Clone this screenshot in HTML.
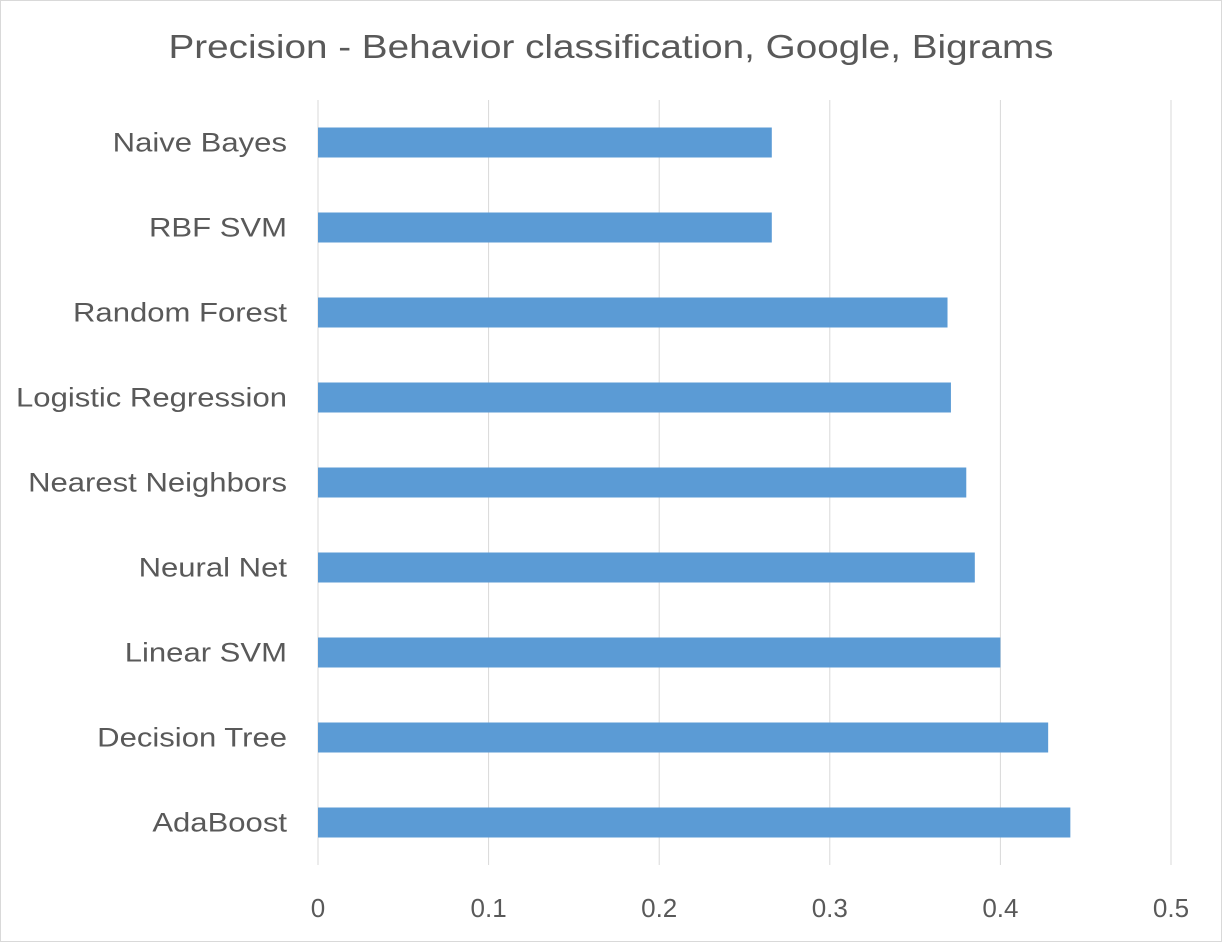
<!DOCTYPE html>
<html><head><meta charset="utf-8"><style>
body{margin:0;background:#fff}
svg{display:block;font-family:"Liberation Sans",sans-serif}
</style></head><body>
<svg id="chart" width="1222" height="942" viewBox="0 0 1222 942">
<rect x="0.5" y="0.5" width="1221" height="941" fill="#fff" stroke="#d9d9d9"/>
<text x="611" y="58" text-anchor="middle" font-size="33" fill="#595959" textLength="885" lengthAdjust="spacingAndGlyphs">Precision - Behavior classification, Google, Bigrams</text>
<g id="grid"></g><g id="bars"></g><g id="ylabels"></g><g id="xlabels"></g>
</svg>
<script>
const categories=["Naive Bayes","RBF SVM","Random Forest","Logistic Regression","Nearest Neighbors","Neural Net","Linear SVM","Decision Tree","AdaBoost"];
const values=[0.266,0.266,0.369,0.371,0.380,0.385,0.400,0.428,0.441];
const ticks=[0,0.1,0.2,0.3,0.4,0.5];
const tickLabels=["0","0.1","0.2","0.3","0.4","0.5"];
const NS="http://www.w3.org/2000/svg";
const x0=318,x1=1171,plotTop=100,plotBottom=865;
const xs=v=>x0+(v/0.5)*(x1-x0);
const band=(plotBottom-plotTop)/categories.length;
const yc=i=>plotTop+band*(i+0.5);
function mk(t,a,p){const e=document.createElementNS(NS,t);for(const k in a)e.setAttribute(k,a[k]);p.appendChild(e);return e;}
const g=document.getElementById('grid'),b=document.getElementById('bars'),yl=document.getElementById('ylabels'),xl=document.getElementById('xlabels');
ticks.forEach((t,i)=>{
 const l=mk('line',{x1:xs(t),x2:xs(t),y1:plotTop,y2:plotBottom,stroke:'#d9d9d9','stroke-width':1},g);
 
 
 const tx=mk('text',{x:xs(t),y:917,'text-anchor':'middle','font-size':26,fill:'#595959'},xl);
 tx.textContent=tickLabels[i];
 
 
});
categories.forEach((c,i)=>{
 const r=mk('rect',{x:x0,y:yc(i)-15,width:xs(values[i])-x0,height:30,fill:'#5b9bd5'},b);
 
 
 const t=mk('text',{x:287,y:yc(i)+9,'text-anchor':'end','font-size':27,fill:'#595959'},yl);
 t.textContent=c;
 
 
 const w=t.getComputedTextLength();
 t.setAttribute('textLength',w*1.15);
 t.setAttribute('lengthAdjust','spacingAndGlyphs');
});
</script>
</body></html>
